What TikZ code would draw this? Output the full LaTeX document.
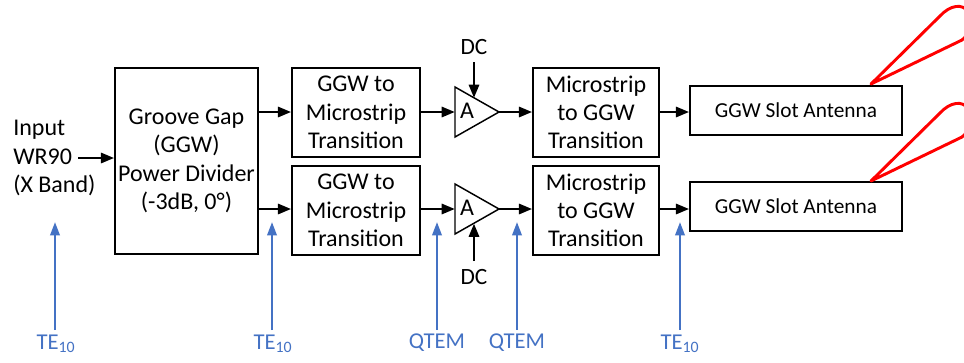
\documentclass[tikz,border=0pt]{standalone}
\usepackage{fontspec}
\setmainfont{Carlito}
\usetikzlibrary{arrows.meta}
\definecolor{modeblue}{HTML}{4472C4}
\definecolor{beamred}{HTML}{FF0000}
\begin{document}
\begin{tikzpicture}[x=0.75pt,y=-0.75pt,
  txt/.style={font=\fontsize{18}{21.2}\selectfont, align=center, inner sep=0pt},
  blk/.style={draw, line width=1.1pt, rectangle, inner sep=0pt, align=center,
              font=\fontsize{18}{21.2}\selectfont},
  sig/.style={line width=2.2pt, -{Triangle[length=10pt,width=7.5pt]}},
  probe/.style={line width=1.8pt, modeblue, -{Triangle[length=10pt,width=7pt]}},
  modelbl/.style={font=\fontsize{17}{20}\selectfont, text=modeblue, inner sep=0pt},
  beam/.style={line width=2.2pt, beamred, line join=round}]
\useasboundingbox (0,0) rectangle (964,362);

% input label
\node[txt, align=left, anchor=west] (input) at (13,158) {Input\\WR90\\(X Band)};
\coordinate (inarrow) at (78,158);

% power divider
\node[blk, minimum width=143*0.75pt, minimum height=186*0.75pt] (div) at (186.5,161)
  {Groove Gap\\(GGW)\\Power Divider\\(-3dB, 0°)};
\draw[sig] (inarrow) -- (div.west |- inarrow);

% GGW to microstrip transitions
\node[blk, minimum width=128*0.75pt, minimum height=89*0.75pt] (g2m1) at (356,112.5)
  {GGW to\\Microstrip\\Transition};
\node[blk, minimum width=128*0.75pt, minimum height=89*0.75pt] (g2m2) at (356,210.5)
  {GGW to\\Microstrip\\Transition};
\draw[sig] (div.east |- 0,112) -- (g2m1.west |- 0,112);
\draw[sig] (div.east |- 0,209) -- (g2m2.west |- 0,209);

% amplifiers
\coordinate (a1in) at (455,112);
\coordinate (a1out) at (499,112);
\coordinate (a1dc) at (474,98);
\draw[line width=1.1pt, line join=miter] (455,87) -- (a1out) -- (455,137) -- cycle;
\node[txt] (a1) at (467,111) {A};
\coordinate (a2in) at (455,209);
\coordinate (a2out) at (499,209);
\coordinate (a2dc) at (474,223.5);
\draw[line width=1.1pt, line join=miter] (455,184) -- (a2out) -- (455,234) -- cycle;
\node[txt] (a2) at (467,208) {A};

\draw[sig] (g2m1.east |- a1in) -- (a1in);
\draw[sig] (g2m2.east |- a2in) -- (a2in);

% bias feeds
\node[txt, font=\fontsize{17.5}{20}\selectfont] (dc1) at (474,47) {DC};
\node[txt, font=\fontsize{17.5}{20}\selectfont] (dc2) at (474,277) {DC};
\draw[sig] (474,62) -- (a1dc);
\draw[sig] (474,261) -- (a2dc);

% microstrip to GGW transitions
\node[blk, minimum width=126*0.75pt, minimum height=89*0.75pt] (m2g1) at (596,112.5)
  {Microstrip\\to GGW\\Transition};
\node[blk, minimum width=126*0.75pt, minimum height=89*0.75pt] (m2g2) at (596,210.5)
  {Microstrip\\to GGW\\Transition};
\draw[sig] (a1out) -- (m2g1.west |- a1out);
\draw[sig] (a2out) -- (m2g2.west |- a2out);

% slot antennas
\node[blk, font=\fontsize{16}{19}\selectfont, minimum width=212*0.75pt, minimum height=49*0.75pt]
  (ant1) at (796,110.5) {GGW Slot Antenna};
\node[blk, font=\fontsize{16}{19}\selectfont, minimum width=212*0.75pt, minimum height=49*0.75pt]
  (ant2) at (796,206.5) {GGW Slot Antenna};
\draw[sig] (m2g1.east |- 0,112) -- (ant1.west |- 0,112);
\draw[sig] (m2g2.east |- 0,209) -- (ant2.west |- 0,209);

% radiation lobes
\begin{scope}
\clip (0,0) rectangle (964,362);
\coordinate (lobe1) at (871,84);
\coordinate (lobe2) at (871,181);
\draw[beam] (lobe1) -- (940,16) .. controls (950,5) and (963,3) .. (968,12)
  .. controls (972,21) and (970,34) .. (962,40) -- cycle;
\draw[beam] (lobe2) -- (940,113) .. controls (950,102) and (963,100) .. (968,109)
  .. controls (972,118) and (970,131) .. (962,137) -- cycle;
\end{scope}

% mode labels
\node[modelbl] (m1) at (56,344) {TE\textsubscript{10}};
\node[modelbl] (m2) at (273,344) {TE\textsubscript{10}};
\node[modelbl] (m3) at (437,343) {QTEM};
\node[modelbl] (m4) at (517,343) {QTEM};
\node[modelbl] (m5) at (680,344) {TE\textsubscript{10}};
\coordinate (p1) at (55,222);
\coordinate (p2) at (272,222);
\coordinate (p3) at (437,222);
\coordinate (p4) at (517,222);
\coordinate (p5) at (680,222);
\draw[probe] (55,330) -- (p1);
\draw[probe] (272,330) -- (p2);
\draw[probe] (437,330) -- (p3);
\draw[probe] (517,330) -- (p4);
\draw[probe] (680,330) -- (p5);
\end{tikzpicture}
\end{document}
